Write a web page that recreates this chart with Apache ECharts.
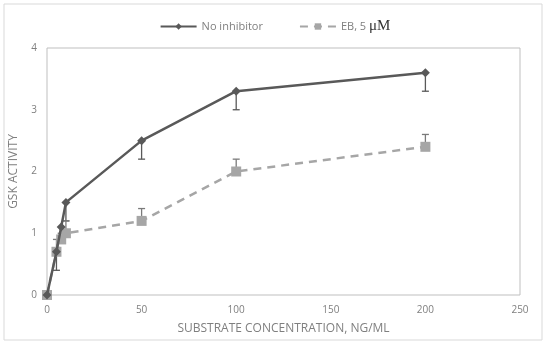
<!DOCTYPE html>
<html><head><meta charset="utf-8">
<script src="https://cdn.jsdelivr.net/npm/echarts@6/dist/echarts.min.js"></script>
<style>html,body{margin:0;padding:0;background:#fff}#c{width:550px;height:346px}</style>
</head><body><div id="c"></div>
<script>
const conc = [0, 5, 7.5, 10, 50, 100, 200];
const noInhibitor = [0, 0.7, 1.1, 1.5, 2.5, 3.3, 3.6];
const noInhibitorErrLow = [0, 0.4, 0.9, 1.2, 2.2, 3.0, 3.3];
const eb5 = [0, 0.7, 0.9, 1.0, 1.2, 2.0, 2.4];
const eb5ErrHigh = [0, 0.9, 1.0, 1.2, 1.4, 2.2, 2.6];
const xTicks = [0, 50, 100, 150, 200, 250];
const yTicks = [0, 1, 2, 3, 4];

const dark = '#595959', light = '#a6a6a6', txt = '#7f7f7f';
const chart = echarts.init(document.getElementById('c'));

function errSeries(vals, ends, color, name) {
  return {
    type: 'custom', name: name, silent: true, z: 1,
    data: conc.map((x, i) => [x, vals[i], ends[i]]),
    renderItem: function (params, api) {
      const x = api.value(0);
      const p1 = api.coord([x, api.value(1)]);
      const p2 = api.coord([x, api.value(2)]);
      const w = 3.5;
      return { type: 'group', children: [
        { type: 'line', shape: { x1: p1[0], y1: p1[1], x2: p2[0], y2: p2[1] }, style: { stroke: color, lineWidth: 1.3 } },
        { type: 'line', shape: { x1: p2[0] - w, y1: p2[1], x2: p2[0] + w, y2: p2[1] }, style: { stroke: color, lineWidth: 1.3 } }
      ]};
    }
  };
}

chart.setOption({
  animation: false,
  graphic: [{ type: 'rect', shape: { x: 4, y: 4, width: 538, height: 336 }, style: { fill: 'none', stroke: '#d9d9d9', lineWidth: 1 } }],
  grid: { left: 46, top: 48, right: 30, bottom: 51, show: true, borderColor: '#bfbfbf', borderWidth: 1 },
  legend: {
    top: 14, left: 'center', itemWidth: 36, itemHeight: 8, itemGap: 36,
    textStyle: { color: txt, fontFamily: 'Open Sans', fontSize: 11,
      rich: { mu: { fontFamily: 'Liberation Serif', fontSize: 15, color: '#333' } } },
    data: ['No inhibitor', 'EB, 5 μM'],
    formatter: function (n) { return n === 'EB, 5 μM' ? 'EB, 5 {mu|μM}' : n; }
  },
  xAxis: {
    type: 'value', min: xTicks[0], max: xTicks[xTicks.length - 1], interval: 50,
    name: 'SUBSTRATE CONCENTRATION, NG/ML', nameLocation: 'middle', nameGap: 28,
    nameTextStyle: { color: txt, fontSize: 12, fontFamily: 'Open Sans' },
    axisLine: { show: false }, axisTick: { show: false }, splitLine: { show: false },
    axisLabel: { color: txt, fontSize: 10, fontFamily: 'Open Sans', margin: 10 }
  },
  yAxis: {
    type: 'value', min: yTicks[0], max: yTicks[yTicks.length - 1], interval: 1,
    name: 'GSK ACTIVITY', nameLocation: 'middle', nameGap: 27,
    nameTextStyle: { color: txt, fontSize: 12, fontFamily: 'Open Sans' },
    axisLine: { show: false }, axisTick: { show: false }, splitLine: { show: false },
    axisLabel: { color: txt, fontSize: 10, fontFamily: 'Open Sans', margin: 10 }
  },
  series: [
    errSeries(noInhibitor, noInhibitorErrLow, dark, 'errA'),
    errSeries(eb5, eb5ErrHigh, '#7a7a7a', 'errB'),
    {
      name: 'No inhibitor', type: 'line', z: 3,
      data: conc.map((x, i) => [x, noInhibitor[i]]),
      symbol: 'diamond', symbolSize: 9,
      lineStyle: { color: dark, width: 2.5 }, itemStyle: { color: dark }
    },
    {
      name: 'EB, 5 μM', type: 'line', z: 2,
      data: conc.map((x, i) => [x, eb5[i]]),
      symbol: 'rect', symbolSize: 10,
      lineStyle: { color: light, width: 2.5, type: [8, 6] }, itemStyle: { color: light }
    }
  ]
});
</script></body></html>
